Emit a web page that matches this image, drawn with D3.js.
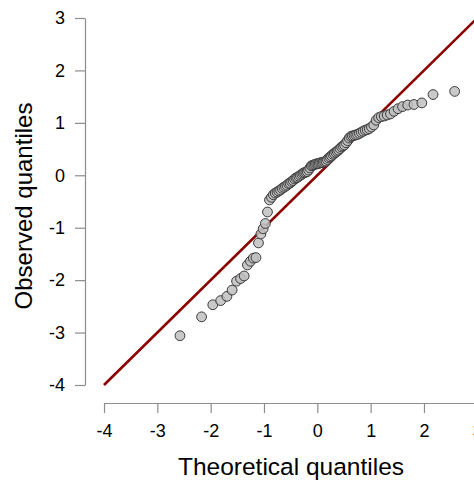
<!DOCTYPE html>
<html>
<head>
<meta charset="utf-8">
<script src="https://cdn.jsdelivr.net/npm/d3@7"></script>
<style>
  html, body { margin: 0; padding: 0; background: #fff; }
  svg { display: block; font-family: "Liberation Sans", Arial, sans-serif; }
</style>
</head>
<body>
<svg id="chart" width="474" height="483"></svg>
<script>
// Theoretical normal quantiles (n = 100)
const theoretical = [
  -2.5758, -2.1701, -1.9600, -1.8119, -1.6954, -1.5982, -1.5141, -1.4395, -1.3722, -1.3106,
  -1.2536, -1.2004, -1.1503, -1.1031, -1.0581, -1.0152, -0.9741, -0.9346, -0.8965, -0.8596,
  -0.8239, -0.7892, -0.7554, -0.7225, -0.6903, -0.6588, -0.6280, -0.5978, -0.5681, -0.5388,
  -0.5101, -0.4817, -0.4538, -0.4261, -0.3989, -0.3719, -0.3451, -0.3186, -0.2924, -0.2663,
  -0.2404, -0.2147, -0.1891, -0.1637, -0.1383, -0.1130, -0.0878, -0.0627, -0.0376, -0.0125,
   0.0125,  0.0376,  0.0627,  0.0878,  0.1130,  0.1383,  0.1637,  0.1891,  0.2147,  0.2404,
   0.2663,  0.2924,  0.3186,  0.3451,  0.3719,  0.3989,  0.4261,  0.4538,  0.4817,  0.5101,
   0.5388,  0.5681,  0.5978,  0.6280,  0.6588,  0.6903,  0.7225,  0.7554,  0.7892,  0.8239,
   0.8596,  0.8965,  0.9346,  0.9741,  1.0152,  1.0581,  1.1031,  1.1503,  1.2004,  1.2536,
   1.3106,  1.3722,  1.4395,  1.5141,  1.5982,  1.6954,  1.8119,  1.9600,  2.1701,  2.5758
];
// Observed (sorted sample) quantiles
const observed = [
  -3.06, -2.70, -2.47, -2.39, -2.31, -2.19, -2.02, -1.97, -1.92, -1.71,
  -1.64, -1.58, -1.57, -1.29, -1.12, -1.02, -0.92, -0.70, -0.47, -0.42,
  -0.37, -0.34, -0.32, -0.30, -0.28, -0.25, -0.23, -0.21, -0.19, -0.16,
  -0.15, -0.12, -0.10, -0.07, -0.05, -0.04, -0.02,  0.00,  0.02,  0.04,
   0.05,  0.06,  0.07,  0.10,  0.14,  0.18,  0.19,  0.20,  0.21,  0.22,
   0.22,  0.23,  0.24,  0.24,  0.25,  0.26,  0.27,  0.30,  0.33,  0.35,
   0.37,  0.40,  0.42,  0.44,  0.46,  0.48,  0.51,  0.54,  0.56,  0.58,
   0.62,  0.66,  0.71,  0.74,  0.75,  0.76,  0.77,  0.78,  0.80,  0.82,
   0.84,  0.86,  0.87,  0.89,  0.92,  0.96,  1.05,  1.10,  1.12,  1.13,
   1.15,  1.17,  1.22,  1.27,  1.31,  1.34,  1.35,  1.38,  1.54,  1.60
];
const xTicks = [-4, -3, -2, -1, 0, 1, 2, 3];
const yTicks = [-4, -3, -2, -1, 0, 1, 2, 3];
const refLine = [[-4, -4], [4, 4]];

const svg = d3.select("#chart");
const x = d3.scaleLinear().domain([-4, 3]).range([104, 477.3]);
const y = d3.scaleLinear().domain([-4, 3]).range([385, 18]);

const axisColor = "#8c8c8c";
const fmt = d => d < 0 ? "-" + Math.abs(d) : String(d);

// X axis
const gx = svg.append("g").attr("transform", "translate(0,403)")
  .call(d3.axisBottom(x).tickValues(xTicks).tickSize(10).tickSizeOuter(0).tickPadding(11).tickFormat(fmt));
gx.select(".domain").attr("stroke", axisColor).attr("stroke-width", 1.2);
gx.selectAll(".tick line").attr("stroke", axisColor).attr("stroke-width", 1.2);
gx.selectAll(".tick text").attr("fill", "#000").attr("font-size", 18);

// Y axis
const gy = svg.append("g").attr("transform", "translate(85,0)")
  .call(d3.axisLeft(y).tickValues(yTicks).tickSize(10).tickSizeOuter(0).tickPadding(10).tickFormat(fmt));
gy.select(".domain").attr("stroke", axisColor).attr("stroke-width", 1.2);
gy.selectAll(".tick line").attr("stroke", axisColor).attr("stroke-width", 1.2);
gy.selectAll(".tick text").attr("fill", "#000").attr("font-size", 18);

// Axis titles
svg.append("text").attr("x", 291).attr("y", 475).attr("text-anchor", "middle")
  .attr("font-size", 24.5).attr("fill", "#000").text("Theoretical quantiles");
svg.append("text").attr("transform", "translate(32,206) rotate(-90)").attr("text-anchor", "middle")
  .attr("font-size", 24).attr("fill", "#000").text("Observed quantiles");

// Reference line y = x
svg.append("path")
  .datum(refLine)
  .attr("d", d3.line().x(d => x(d[0])).y(d => y(d[1])))
  .attr("stroke", "#8b0000").attr("stroke-width", 2.6).attr("fill", "none");

// Points
svg.append("g").selectAll("circle")
  .data(theoretical.map((t, i) => [t, observed[i]]))
  .join("circle")
  .attr("cx", d => x(d[0]))
  .attr("cy", d => y(d[1]))
  .attr("r", 4.9)
  .attr("fill", "#bfbfbf")
  .attr("fill-opacity", 0.85)
  .attr("stroke", "#3a3a3a")
  .attr("stroke-width", 1);
</script>
</body>
</html>
